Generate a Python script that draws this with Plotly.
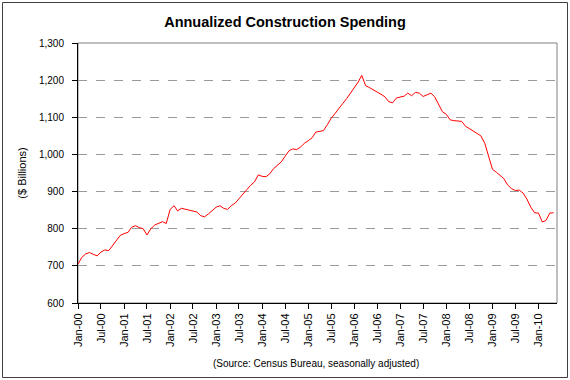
import plotly.graph_objects as go
import pandas as pd

title_text = "Annualized Construction Spending"
y_title = "($ Billions)"
source_text = "(Source: Census Bureau, seasonally adjusted)"

start_month = "2000-01-01"
spending = [
    705, 723, 732, 736, 731, 727, 737, 743, 741, 754,
    768, 782, 787, 790, 804, 808, 803, 800, 783, 800,
    810, 815, 819, 814, 852, 862, 848, 855, 853, 849,
    847, 845, 835, 832, 840, 849, 858, 862, 855, 852,
    862, 869, 880, 893, 905, 917, 926, 945, 941, 940,
    948, 962, 972, 980, 995, 1010, 1015, 1013, 1020, 1030,
    1037, 1045, 1060, 1062, 1064, 1080, 1097, 1110, 1125, 1137,
    1150, 1165, 1180, 1195, 1213, 1185, 1180, 1175, 1168, 1162,
    1155, 1142, 1139, 1152, 1154, 1157, 1165, 1158, 1167, 1165,
    1156, 1160, 1165, 1155, 1133, 1115, 1108, 1093, 1091, 1091,
    1089, 1076, 1070, 1062, 1057, 1050, 1030, 998, 960, 952,
    945, 935, 918, 908, 903, 904, 896, 880, 858, 843,
    842, 818, 822, 842, 843,
]
months = pd.date_range(start_month, periods=len(spending), freq="MS")

tick_dates = pd.date_range("2000-01-01", "2010-01-01", freq="6MS")
tick_labels = [d.strftime("%b-%y") for d in tick_dates]
y_ticks = [600, 700, 800, 900, 1000, 1100, 1200, 1300]

FONT = "Liberation Sans, Arial, sans-serif"

fig = go.Figure()
fig.add_trace(go.Scatter(
    x=months, y=spending, mode="lines",
    line=dict(color="#FF0000", width=1),
    hoverinfo="skip", showlegend=False,
))

fig.update_layout(
    width=570, height=380,
    paper_bgcolor="white", plot_bgcolor="white",
    margin=dict(l=78, r=13, t=43, b=77),
    font=dict(family=FONT, size=11, color="black"),
    title=dict(text="<b>" + title_text + "</b>", x=0.5, xanchor="center",
               y=1 - 22 / 380, yanchor="middle",
               font=dict(family=FONT, size=14.5, color="black")),
    showlegend=False,
)

fig.update_xaxes(
    type="date",
    range=[pd.Timestamp("2000-01-01"), pd.Timestamp("2010-05-28")],
    tickvals=tick_dates, ticktext=tick_labels, tickangle=-90,
    ticks="outside", ticklen=5, tickcolor="black", tickwidth=1,
    showline=True, linecolor="black", linewidth=1,
    showgrid=False, zeroline=False,
    tickfont=dict(family=FONT, size=11, color="#000"),
)
fig.update_yaxes(
    range=[600, 1300], tickvals=y_ticks, tickformat=",",
    ticks="outside", ticklen=5, tickcolor="black", tickwidth=1,
    ticklabelstandoff=6,
    showline=True, linecolor="black", linewidth=1,
    showgrid=True, gridcolor="#9a9a9a", griddash="dash", gridwidth=1,
    zeroline=False,
    title=dict(text=y_title, font=dict(family=FONT, size=11, color="black"), standoff=10),
    tickfont=dict(family=FONT, size=10, color="#000"),
)

# plot-area border (top/right gray)
fig.add_shape(type="rect", xref="paper", yref="paper", x0=0, y0=0, x1=1, y1=1,
              line=dict(color="#808080", width=1), layer="below")
# outer chart border
W, H = 570 - 78 - 13, 380 - 43 - 77
fig.add_shape(type="rect", xref="paper", yref="paper",
              x0=(2.5 - 78) / W, x1=(567.5 - 78) / W,
              y0=(303 - 377.5) / H, y1=(303 - 2.5) / H,
              line=dict(color="#404040", width=1), layer="below")

fig.add_annotation(text=source_text, xref="paper", yref="paper",
                   x=(316 - 78) / W, y=(303 - 363) / H,
                   xanchor="center", yanchor="middle", showarrow=False,
                   font=dict(family=FONT, size=10, color="black"))

fig.write_html("out.html", config={"displayModeBar": False},
               post_script="document.body.style.margin='0';")
